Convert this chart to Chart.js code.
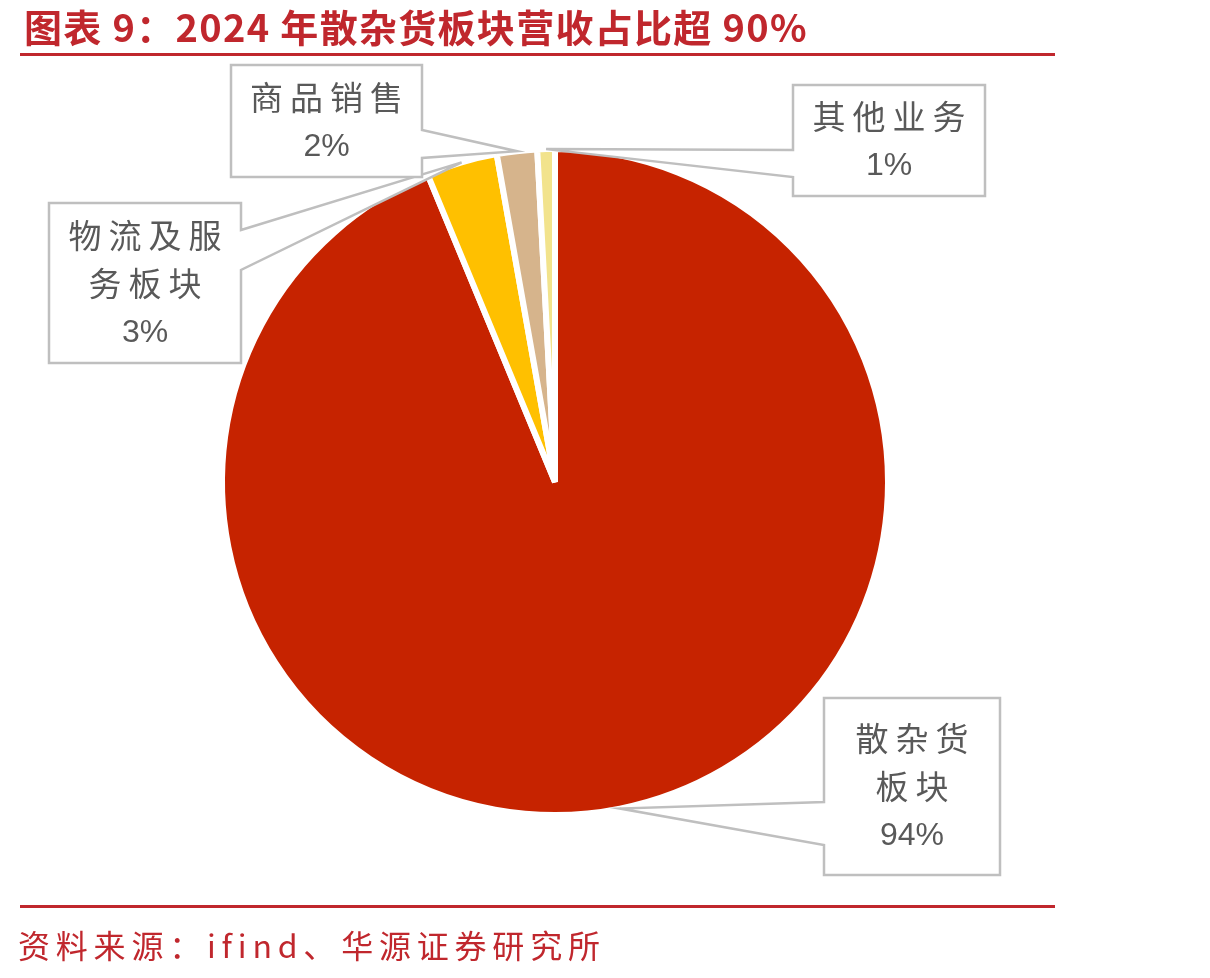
<!DOCTYPE html>
<html><head><meta charset="utf-8">
<script src="https://cdn.jsdelivr.net/npm/chart.js@4.4.1/dist/chart.umd.min.js"></script>
<style>
html,body{margin:0;padding:0;background:#fff;width:1210px;height:978px;overflow:hidden;}
#wrap{position:relative;width:1210px;height:978px;}
canvas{position:absolute;left:0;top:0;}
#title{position:absolute;left:24px;top:7px;line-height:38px;font-family:"Noto Sans CJK SC";font-weight:bold;font-size:38px;color:#C0272D;letter-spacing:1.3px;white-space:nowrap;z-index:2;}
#line1{position:absolute;left:20px;top:53px;width:1035px;height:3px;background:#C0272D;z-index:2;}
#line2{position:absolute;left:20px;top:905px;width:1035px;height:3px;background:#C0272D;z-index:2;}
#source{position:absolute;left:18px;top:928px;line-height:32px;font-family:"Noto Sans CJK SC";font-size:32px;color:#C0272D;letter-spacing:5.8px;white-space:nowrap;z-index:2;}
</style></head>
<body><div id="wrap">
<canvas id="c" width="1210" height="978"></canvas>
<div id="title">图表 9：2024 年散杂货板块营收占比超 90%</div>
<div id="line1"></div>
<div id="line2"></div>
<div id="source">资料来源：ifind、华源证券研究所</div>
</div>
<script>
const categories = ['散杂货板块', '物流及服务板块', '商品销售', '其他业务'];
const labelLines = [['散杂货', '板块'], ['物流及服', '务板块'], ['商品销售'], ['其他业务']];
const shares = [93.75, 3.45, 1.95, 0.85];
const colors = ['#C62300', '#FFC000', '#D6B48C', '#F2E38C'];

const calloutPlugin = {
  id: 'callouts',
  afterDatasetsDraw(chart, args, opts) {
    const ctx = chart.ctx;
    const meta = chart.getDatasetMeta(0);
    ctx.save();
    opts.boxes.forEach((b, i) => {
      const arc = meta.data[i];
      const p = arc.getProps(['x', 'y', 'startAngle', 'endAngle', 'outerRadius'], true);
      const mid = (p.startAngle + p.endAngle) / 2;
      const r = p.outerRadius;
      const tx = p.x + Math.cos(mid) * r;
      const ty = p.y + Math.sin(mid) * r;
      const x = b.x, y = b.y, w = b.w, h = b.h;
      ctx.beginPath();
      if (b.side === 'right') {
        ctx.moveTo(x, y); ctx.lineTo(x + w, y); ctx.lineTo(x + w, b.b1);
        ctx.lineTo(tx, ty); ctx.lineTo(x + w, b.b2); ctx.lineTo(x + w, y + h);
        ctx.lineTo(x, y + h); ctx.closePath();
      } else {
        ctx.moveTo(x, y); ctx.lineTo(x + w, y); ctx.lineTo(x + w, y + h);
        ctx.lineTo(x, y + h); ctx.lineTo(x, b.b2); ctx.lineTo(tx, ty);
        ctx.lineTo(x, b.b1); ctx.closePath();
      }
      ctx.fillStyle = '#FFFFFF';
      ctx.fill();
      ctx.lineWidth = 2.5;
      ctx.strokeStyle = '#BFBFBF';
      ctx.lineJoin = 'miter';
      ctx.stroke();
      const lines = labelLines[i].concat([Math.round(shares[i]) + '%']);
      ctx.fillStyle = '#595959';
      ctx.textAlign = 'center';
      ctx.textBaseline = 'middle';
      const lh = 48;
      const cx = x + w / 2, cy = y + h / 2;
      lines.forEach((t, k) => {
        const ly = cy + (k - (lines.length - 1) / 2) * lh;
        if (/%$/.test(t)) {
          ctx.font = '32px "Liberation Sans Narrow", "Liberation Sans", sans-serif';
          ctx.letterSpacing = '0px';
          ctx.fillText(t, cx, ly + 2);
        } else {
          ctx.font = '33px "Noto Sans CJK SC"';
          ctx.letterSpacing = '7px';
          ctx.fillText(t, cx + 3.5, ly);
        }
      });
    });
    ctx.restore();
  }
};

new Chart(document.getElementById('c'), {
  type: 'pie',
  data: {
    labels: categories,
    datasets: [{
      data: shares,
      backgroundColor: colors,
      borderColor: '#FFFFFF',
      borderWidth: 6,
      hoverOffset: 0
    }]
  },
  options: {
    responsive: false,
    animation: false,
    radius: 333,
    layout: { padding: { left: 0, top: 0, right: 100, bottom: 14 } },
    plugins: {
      legend: { display: false },
      tooltip: { enabled: false },
      callouts: {
        boxes: [
          { x: 824, y: 698, w: 176, h: 177, side: 'left', b1: 802, b2: 845 },
          { x: 49, y: 203, w: 192, h: 160, side: 'right', b1: 230, b2: 270 },
          { x: 231, y: 65, w: 191, h: 112, side: 'right', b1: 130, b2: 158 },
          { x: 793, y: 85, w: 192, h: 111, side: 'left', b1: 150, b2: 177 }
        ]
      }
    }
  },
  plugins: [calloutPlugin]
});
</script>
</body></html>
